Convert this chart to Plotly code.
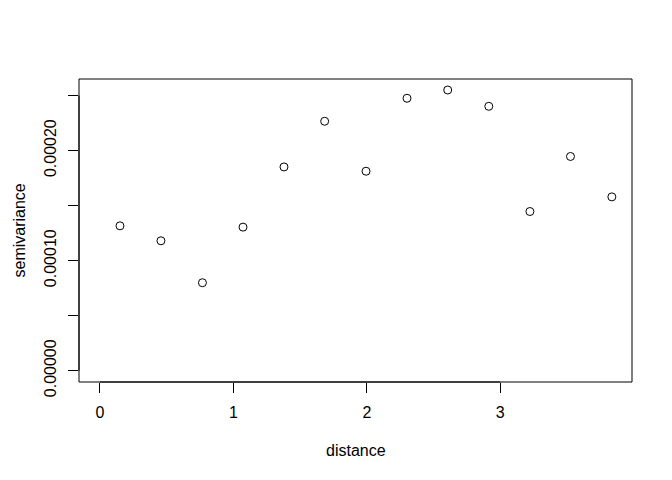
import plotly.graph_objects as go

distance = [0.150, 0.457, 0.768, 1.072, 1.379, 1.684, 1.994, 2.301, 2.606, 2.914, 3.222, 3.526, 3.836]
semivariance = [0.0001316, 0.0001180, 0.0000799, 0.0001304, 0.0001851, 0.0002266, 0.0001812,
                0.0002475, 0.0002550, 0.0002402, 0.0001446, 0.0001946, 0.0001579]

x_ticks = [0, 1, 2, 3]
y_ticks = [0.0, 0.00005, 0.0001, 0.00015, 0.0002, 0.00025]
y_ticktext = ["0.00000", "", "0.00010", "", "0.00020", ""]

FONT = "Liberation Sans, Arial, Helvetica, sans-serif"

fig = go.Figure()
fig.add_trace(go.Scatter(
    x=distance, y=semivariance, mode="markers",
    marker=dict(symbol="circle-open", size=8, color="black", line=dict(width=1, color="black")),
    showlegend=False, hoverinfo="skip",
))

# page body has an 8px margin, compensate so the plot box lands where R put it
fig.update_layout(
    width=672, height=480,
    margin=dict(l=70.7, r=48.3, t=70.7, b=105.9, pad=0),
    paper_bgcolor="white", plot_bgcolor="white",
    font=dict(family=FONT, size=16, color="black"),
    xaxis=dict(range=[-0.157, 3.987], tickvals=x_ticks, ticktext=[str(v) for v in x_ticks],
               showgrid=False, zeroline=False, showline=False,
               ticks="outside", ticklen=10, tickwidth=1, tickcolor="black",
               ticklabelstandoff=6, tickfont=dict(size=16)),
    yaxis=dict(range=[-1.03e-5, 2.65e-4], tickvals=y_ticks, ticktext=y_ticktext,
               showgrid=False, zeroline=False, showline=False,
               ticks="outside", ticklen=10, tickwidth=1, tickcolor="black",
               tickangle=-90, ticklabelstandoff=6, tickfont=dict(size=16)),
)

# plot box
fig.add_shape(type="rect", xref="paper", yref="paper", x0=0, x1=1, y0=0, y1=1,
              line=dict(color="black", width=1))
# R-style axis lines spanning first to last tick
fig.add_shape(type="line", xref="x", yref="paper", x0=x_ticks[0], x1=x_ticks[-1], y0=0, y1=0,
              line=dict(color="black", width=1))
fig.add_shape(type="line", xref="paper", yref="y", x0=0, x1=0, y0=y_ticks[0], y1=y_ticks[-1],
              line=dict(color="black", width=1))

fig.add_annotation(text="distance", xref="paper", yref="paper", x=0.5, y=0,
                   xanchor="center", yanchor="middle", yshift=-68, showarrow=False,
                   font=dict(size=16))
fig.add_annotation(text="semivariance", xref="paper", yref="paper", x=0, y=0.5,
                   xanchor="center", yanchor="middle", xshift=-60, textangle=-90, showarrow=False,
                   font=dict(size=16))

fig.write_html("out.html")
